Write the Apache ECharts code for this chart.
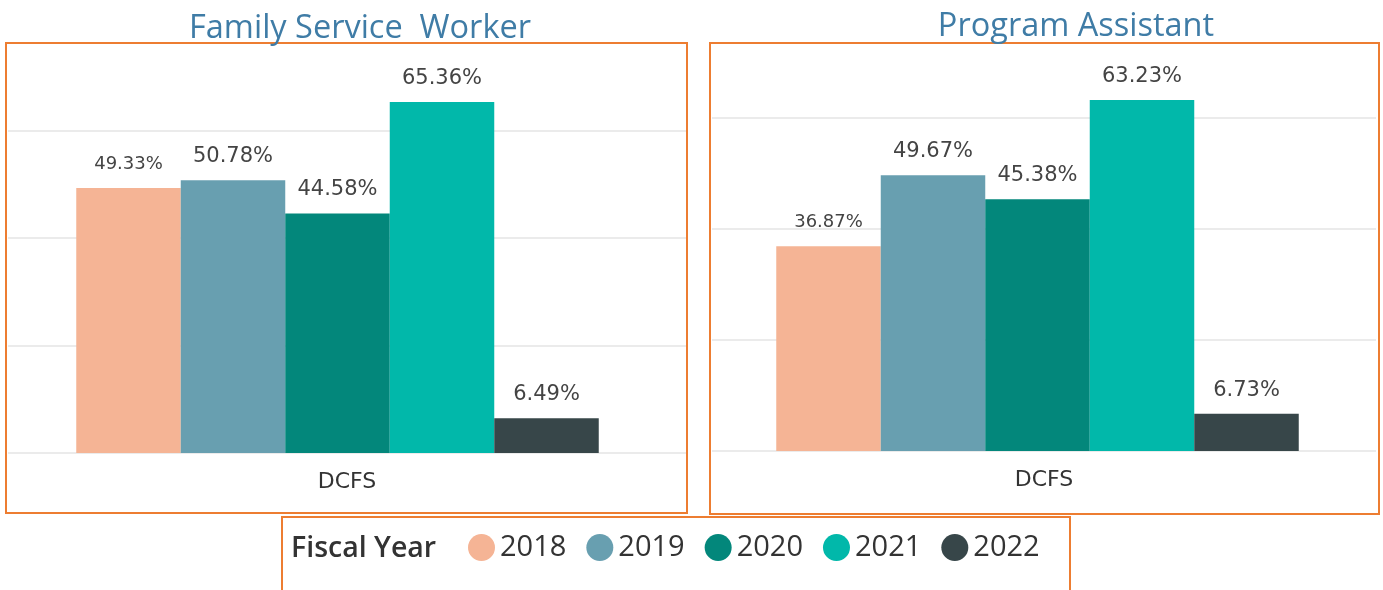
<!DOCTYPE html>
<html>
<head>
<meta charset="utf-8">
<title>Fiscal Year</title>
    <style>
        * {
            margin: 0;
            padding: 0;
        }
        #main {
            width: 1383px;
            height: 590px;
            background: #fff;
        }
    </style>
</head>
<body>
<div id="main"></div>
<script src="https://cdn.jsdelivr.net/npm/echarts@6/dist/echarts.min.js"></script>
<script>
    var years = ['2018', '2019', '2020', '2021', '2022'];
    var categories = ['DCFS'];
    var fswValues = [49.33, 50.78, 44.58, 65.36, 6.49];   // Family Service Worker
    var paValues = [36.87, 49.67, 45.38, 63.23, 6.73];    // Program Assistant
    var yearColors = ['#F5B495', '#689FB0', '#03877B', '#01B8AA', '#374649'];
    var orange = '#ED7D31';

    var myChart = echarts.init(document.getElementById('main'));

    function buildSeries(values, idx, pad) {
        var list = [];
        for (var i = 0; i < years.length; i++) {
            list.push({
                name: years[i],
                type: 'bar',
                xAxisIndex: idx,
                yAxisIndex: idx,
                barWidth: 104.5,
                barGap: '0%',
                itemStyle: { color: yearColors[i] },
                label: {
                    show: true,
                    position: 'top',
                    distance: i === 0 ? 15 : 13,
                    fontFamily: 'DejaVu Sans',
                    fontSize: i === 0 ? 18 : 21,
                    color: '#444',
                    formatter: function (p) { return p.value.toFixed(2) + '%'; }
                },
                data: [values[i]]
            });
        }
        // empty slot on the right, Power BI leaves the group a bit left of centre
        list.push({
            name: 'pad',
            type: 'bar',
            xAxisIndex: idx,
            yAxisIndex: idx,
            barWidth: pad,
            barGap: '0%',
            data: [null]
        });
        return list;
    }

    function yAxis(idx) {
        return {
            gridIndex: idx,
            type: 'value',
            min: 0,
            max: 70,
            interval: 20,
            axisLabel: { show: false },
            axisLine: { show: false },
            axisTick: { show: false },
            splitLine: {
                showMaxLine: false,
                lineStyle: { color: '#EBEBEB', width: 2 }
            }
        };
    }

    function xAxis(idx) {
        return {
            gridIndex: idx,
            type: 'category',
            data: categories,
            axisLine: { show: false },
            axisTick: { show: false },
            axisLabel: {
                margin: 18,
                fontFamily: 'DejaVu Sans',
                fontSize: 22,
                color: '#333'
            }
        };
    }

    var option = {
        animation: false,
        title: [
            {
                text: 'Family Service  Worker',
                left: 355,
                top: 7,
                textAlign: 'center',
                textStyle: { fontFamily: 'Open Sans', fontWeight: 'normal', fontSize: 32.5, color: '#3F7CA6' }
            },
            {
                text: 'Program Assistant',
                left: 1071,
                top: 5,
                textAlign: 'center',
                textStyle: { fontFamily: 'Open Sans', fontWeight: 'normal', fontSize: 32.5, color: '#3F7CA6' }
            }
        ],
        legend: {
            data: years,
            left: 463,
            top: 528,
            icon: 'circle',
            itemWidth: 27,
            itemHeight: 27,
            itemGap: 20,
            textStyle: { fontFamily: 'Open Sans', fontSize: 29, color: '#333' }
        },
        grid: [
            { left: 8, right: 1383 - 686, top: 77, bottom: 590 - 453 },
            { left: 712, right: 1383 - 1376, top: 62.5, bottom: 590 - 451 }
        ],
        xAxis: [xAxis(0), xAxis(1)],
        yAxis: [yAxis(0), yAxis(1)],
        series: buildSeries(fswValues, 0, 19).concat(buildSeries(paValues, 1, 13)),
        graphic: [
            {
                type: 'rect',
                shape: { x: 6, y: 43, width: 681, height: 470 },
                style: { fill: 'none', stroke: orange, lineWidth: 2 }
            },
            {
                type: 'rect',
                shape: { x: 710, y: 43, width: 669, height: 471 },
                style: { fill: 'none', stroke: orange, lineWidth: 2 }
            },
            {
                type: 'rect',
                shape: { x: 282, y: 517, width: 788, height: 90 },
                style: { fill: 'none', stroke: orange, lineWidth: 2 }
            },
            {
                type: 'text',
                left: 291,
                top: 534,
                style: {
                    text: 'Fiscal Year',
                    fontFamily: 'Open Sans',
                    fontWeight: 600,
                    fontSize: 28.5,
                    fill: '#333'
                }
            }
        ]
    };

    myChart.setOption(option);
</script>
</body>
</html>
